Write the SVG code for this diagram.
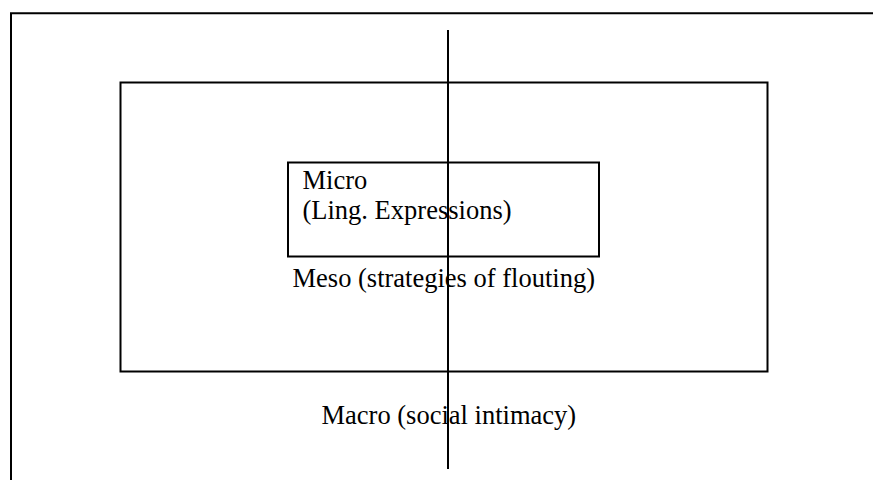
<svg xmlns="http://www.w3.org/2000/svg" width="873" height="480" viewBox="0 0 873 480">
<style>
.ln{fill:none;stroke:#000;stroke-width:2}
.t{font-family:"Liberation Serif","Times New Roman",serif;font-size:26.5px;fill:#000}
</style>
<rect width="873" height="480" fill="#fff"/>
<g id="frame"><path class="ln" d="M11 480 V13.3 H873"/></g>
<g id="macro">
<rect class="ln" x="120.5" y="82.5" width="647" height="289"/>
<text class="t" x="321.5" y="423.5">Macro (social intimacy)</text>
</g>
<g id="meso">
<text class="t" x="292.5" y="287">Meso (strategies of flouting)</text>
</g>
<g id="micro">
<rect class="ln" x="288" y="162.5" width="311" height="94"/>
<text class="t" x="302.5" y="188.5">Micro</text>
<text class="t" x="302.5" y="218.5">(Ling. Expressions)</text>
</g>
<g id="connectors"><line class="ln" x1="448" y1="30" x2="448" y2="469"/></g>
</svg>
